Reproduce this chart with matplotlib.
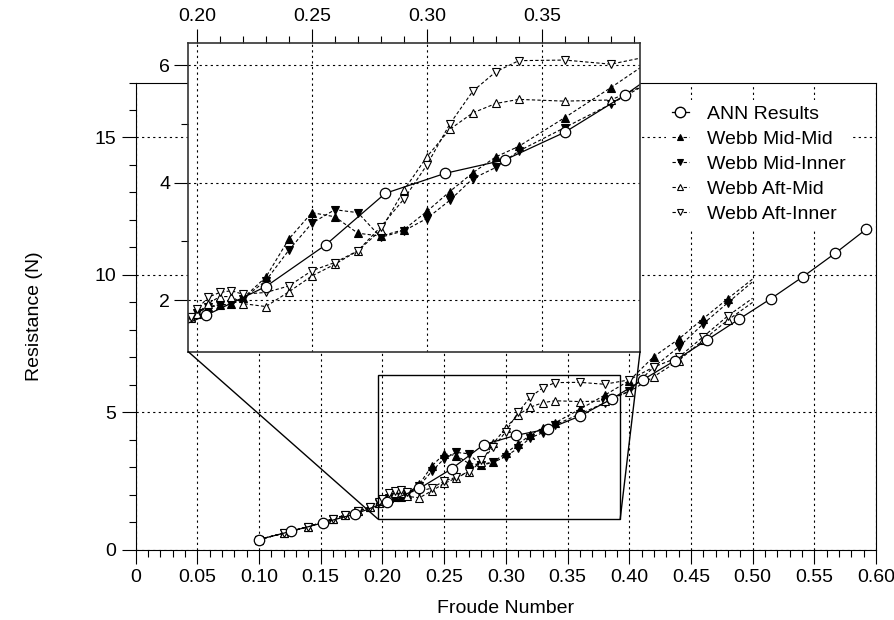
import matplotlib
matplotlib.use("Agg")
import matplotlib.pyplot as plt
from matplotlib.lines import Line2D
from matplotlib.patches import Rectangle, ConnectionPatch
from matplotlib.ticker import MultipleLocator, FuncFormatter

plt.rcParams['font.family'] = ['Liberation Sans', 'DejaVu Sans']

# ANN predicted resistance
ann_fn = [0.100, 0.126, 0.152, 0.178, 0.204, 0.230, 0.256, 0.282, 0.308, 0.334,
          0.360, 0.386, 0.411, 0.437, 0.463, 0.489, 0.515, 0.541, 0.567, 0.592]
ann_res = [0.37, 0.67, 0.98, 1.30, 1.74, 2.23, 2.94, 3.82, 4.16, 4.39,
           4.86, 5.49, 6.18, 6.88, 7.63, 8.39, 9.14, 9.94, 10.79, 11.66]

# Webb towing tank results
webb_fn = [0.10, 0.12, 0.14, 0.16, 0.17, 0.18, 0.19, 0.1975, 0.20, 0.205, 0.21,
           0.215, 0.22, 0.23, 0.24, 0.25, 0.26, 0.27, 0.28, 0.29, 0.30, 0.31,
           0.32, 0.33, 0.34, 0.36, 0.38, 0.40, 0.42, 0.44, 0.46, 0.48, 0.50]
mid_mid = [0.37, 0.60, 0.84, 1.12, 1.26, 1.40, 1.55, 1.71, 1.80, 1.89, 1.92,
           1.93, 2.03, 2.39, 3.04, 3.49, 3.42, 3.14, 3.09, 3.20, 3.51, 3.85,
           4.17, 4.44, 4.62, 5.11, 5.62, 6.15, 7.03, 7.66, 8.41, 9.14, 9.85]
mid_inner = [0.37, 0.60, 0.84, 1.12, 1.26, 1.40, 1.55, 1.71, 1.78, 1.88, 1.91,
             1.93, 2.02, 2.33, 2.85, 3.31, 3.54, 3.49, 3.07, 3.18, 3.39, 3.70,
             4.07, 4.26, 4.54, 4.94, 5.34, 5.78, 6.65, 7.37, 8.22, 8.99, 9.75]
aft_mid = [0.37, 0.60, 0.84, 1.12, 1.26, 1.40, 1.55, 1.69, 1.76, 1.94, 2.06,
           2.06, 1.94, 1.89, 2.14, 2.41, 2.61, 2.84, 3.19, 3.87, 4.44, 4.91,
           5.19, 5.35, 5.42, 5.39, 5.41, 5.75, 6.30, 6.88, 7.63, 8.36, 9.00]
aft_inner = [0.37, 0.60, 0.84, 1.12, 1.26, 1.40, 1.55, 1.72, 1.84, 2.05, 2.13,
             2.16, 2.10, 2.13, 2.24, 2.50, 2.64, 2.84, 3.25, 3.72, 4.30, 5.00,
             5.56, 5.89, 6.08, 6.09, 6.02, 6.18, 6.65, 7.00, 7.75, 8.51, 9.15]

webb_labels = ['Webb Mid-Mid', 'Webb Mid-Inner', 'Webb Aft-Mid', 'Webb Aft-Inner']
webb_markers = ['^', 'v', '^', 'v']
webb_faces = ['black', 'black', 'white', 'white']

# zoomed window
zx = (0.1963, 0.3927)
zy = (1.12, 6.375)

dash = (0, (3, 2))
grid_ls = (0, (2, 3))


def draw(ax):
    for y, m, fc in zip([mid_mid, mid_inner, aft_mid, aft_inner], webb_markers, webb_faces):
        ax.plot(webb_fn, y, color='k', lw=0.8, linestyle=dash, marker=m, ms=6,
                mfc=fc, mec='k', mew=0.8, markevery=slice(0, len(webb_fn) - 1))
    ax.plot(ann_fn, ann_res, color='k', lw=0.9, marker='o', ms=7.5,
            mfc='white', mec='k', mew=0.9)


fig = plt.figure(figsize=(8.95, 6.2), dpi=100)
ax = fig.add_axes([0.1515, 0.1134, 0.8273, 0.7535])
draw(ax)
ax.set_xlim(0, 0.6)
ax.set_ylim(0, 17)
ax.xaxis.set_major_locator(MultipleLocator(0.05))
ax.xaxis.set_minor_locator(MultipleLocator(0.01))
ax.yaxis.set_major_locator(MultipleLocator(5))
ax.yaxis.set_minor_locator(MultipleLocator(1))
ax.xaxis.set_major_formatter(FuncFormatter(lambda v, p: '0' if abs(v) < 1e-9 else f'{v:.2f}'))
ax.tick_params(which='major', direction='out', length=10, width=0.8, labelsize=14, pad=4)
ax.tick_params(which='minor', direction='out', length=5, width=0.8)
ax.grid(True, which='major', color='k', lw=0.8, linestyle=grid_ls)
ax.set_xlabel('Froude Number', fontsize=14, labelpad=10)
ax.set_ylabel('Resistance (N)', fontsize=14, labelpad=37)

# zoom box and connectors
ax.add_patch(Rectangle((zx[0], zy[0]), zx[1] - zx[0], zy[1] - zy[0],
                       fill=False, ec='k', lw=1, zorder=5))

axin = fig.add_axes([0.2104, 0.4327, 0.5047, 0.4974])
draw(axin)
axin.set_xlim(*zx)
axin.set_ylim(*zy)
axin.xaxis.tick_top()
axin.xaxis.set_major_locator(MultipleLocator(0.05))
axin.xaxis.set_minor_locator(MultipleLocator(0.01))
axin.yaxis.set_major_locator(MultipleLocator(2))
axin.yaxis.set_minor_locator(MultipleLocator(1))
axin.xaxis.set_major_formatter(FuncFormatter(lambda v, p: f'{v:.2f}'))
axin.tick_params(which='major', direction='out', length=10, width=0.8, labelsize=14, pad=3)
axin.tick_params(which='minor', direction='out', length=5, width=0.8)
axin.grid(True, which='major', color='k', lw=0.8, linestyle=grid_ls)
for s in axin.spines.values():
    s.set_color('#333333')
    s.set_linewidth(1.2)

for xa, xb in [(zx[0], 0), (zx[1], 1)]:
    con = ConnectionPatch(xyA=(xa, zy[0]), coordsA=ax.transData,
                          xyB=(xb, 0), coordsB=axin.transAxes, color='k', lw=1)
    fig.add_artist(con)

handles = [Line2D([], [], color='k', lw=0.9, marker='o', ms=7.5, mfc='white', mec='k')]
for m, fc in zip(webb_markers, webb_faces):
    handles.append(Line2D([], [], color='k', lw=0.8, linestyle=dash, marker=m, ms=4.5,
                          mfc=fc, mec='k', mew=0.8))
leg = ax.legend(handles, ['ANN Results'] + webb_labels, loc='upper left',
                bbox_to_anchor=(0.744, 0.839), bbox_transform=fig.transFigure,
                fontsize=14, frameon=True, fancybox=False, edgecolor='none',
                facecolor='white', framealpha=1, borderpad=0.3, borderaxespad=0,
                handlelength=0.9, handletextpad=0.9, labelspacing=0.38)

fig.savefig('out.png', dpi=100)
